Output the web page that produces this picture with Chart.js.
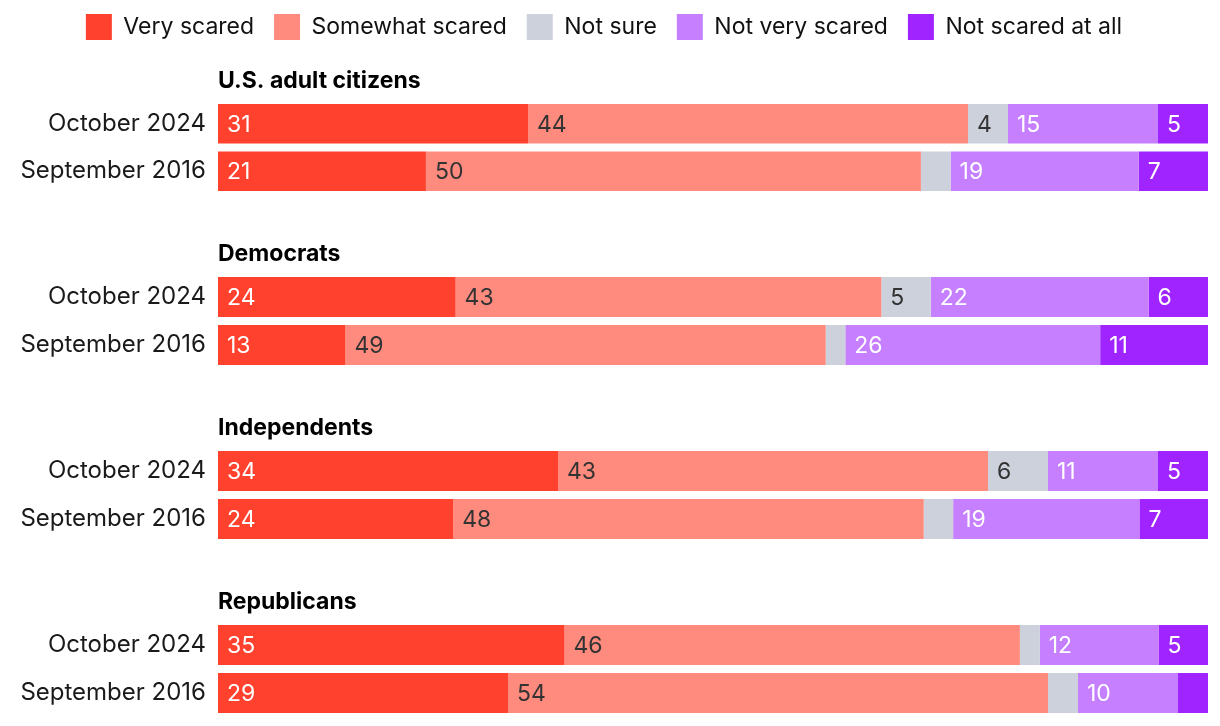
<!DOCTYPE html>
<html lang="en">
<head>
  <meta charset="UTF-8">
  <title>Scared</title>
  <script src="https://cdn.jsdelivr.net/npm/chart.js"></script>
  <style>
    body {
      margin: 0;
      background: #fff;
      font-family: Inter, sans-serif;
    }
    .box {
      position: absolute;
      left: 0;
      width: 1220px;
    }
  </style>
</head>
<body>
  <div class="box" style="top:-6px;height:206px"><canvas id="c0"></canvas></div>
  <div class="box" style="top:200px;height:174px"><canvas id="c1"></canvas></div>
  <div class="box" style="top:374px;height:174px"><canvas id="c2"></canvas></div>
  <div class="box" style="top:548px;height:174px"><canvas id="c3"></canvas></div>

  <script>
    // groupes et lignes
    const groups = ['U.S. adult citizens', 'Democrats', 'Independents', 'Republicans'];
    const periods = ['October 2024', 'September 2016'];

    // une valeur par ligne : US oct, US sep, Dem oct, Dem sep, Ind oct, Ind sep, Rep oct, Rep sep
    const veryScared     = [31, 21, 24, 13, 34, 24, 35, 29];
    const somewhatScared = [44, 50, 43, 49, 43, 48, 46, 54];
    const notSure        = [4, 3, 5, 2, 6, 3, 2, 3];
    const notVeryScared  = [15, 19, 22, 26, 11, 19, 12, 10];
    const notScaredAtAll = [5, 7, 6, 11, 5, 7, 5, 3];

    const series = [
      { label: 'Very scared',        values: veryScared,     color: '#ff412d', text: '#ffffff' },
      { label: 'Somewhat scared',    values: somewhatScared, color: '#ff8b7e', text: '#333333' },
      { label: 'Not sure',           values: notSure,        color: '#cdd1dc', text: '#333333' },
      { label: 'Not very scared',    values: notVeryScared,  color: '#c57fff', text: '#ffffff' },
      { label: 'Not scared at all',  values: notScaredAtAll, color: '#a024ff', text: '#ffffff' }
    ];

    // total de chaque ligne (les barres remplissent toute la largeur)
    const rowTotals = veryScared.map((_, i) => series.reduce((s, d) => s + d.values[i], 0));

    // etiquettes dans les barres
    const valueLabels = {
      id: 'valueLabels',
      afterDatasetsDraw(chart) {
        const ctx = chart.ctx;
        ctx.save();
        ctx.font = '23px Inter';
        ctx.textBaseline = 'middle';
        ctx.textAlign = 'left';
        chart.data.datasets.forEach((ds, di) => {
          chart.getDatasetMeta(di).data.forEach((bar, i) => {
            const w = bar.x - bar.base;
            if (w < 38) return;
            ctx.fillStyle = ds.textColor;
            ctx.fillText(String(ds.raw[i]), bar.base + 9, bar.y + 1);
          });
        });
        ctx.restore();
      }
    };

    // titre du groupe au-dessus des barres
    const groupTitle = {
      id: 'groupTitle',
      afterDraw(chart, args, opts) {
        const ctx = chart.ctx;
        ctx.save();
        ctx.font = 'bold 23px Inter';
        ctx.fillStyle = '#000';
        ctx.textBaseline = 'middle';
        ctx.fillText(opts.text, chart.chartArea.left, chart.chartArea.top - 19);
        ctx.restore();
      }
    };

    // espace sous la legende
    const legendGap = {
      id: 'legendGap',
      beforeInit(chart) {
        if (!chart.legend) return;
        const fit = chart.legend.fit;
        chart.legend.fit = function () {
          fit.bind(chart.legend)();
          if (chart.options.plugins.legend.display) {
            this.height += chart.options.plugins.legendGap.extra;
          }
        };
      }
    };

    function buildChart(k) {
      const rows = [2 * k, 2 * k + 1];
      const datasets = series.map(s => ({
        label: s.label,
        data: rows.map(i => s.values[i] / rowTotals[i] * 100),
        raw: rows.map(i => s.values[i]),
        backgroundColor: s.color,
        textColor: s.text,
        borderWidth: 0,
        barPercentage: 40 / 48,
        categoryPercentage: 1
      }));

      new Chart(document.getElementById('c' + k), {
        type: 'bar',
        data: { labels: periods, datasets: datasets },
        options: {
          indexAxis: 'y',
          responsive: true,
          maintainAspectRatio: false,
          animation: false,
          layout: {
            padding: { top: k === 0 ? 0 : 73, bottom: 5, left: 0, right: 12 }
          },
          scales: {
            x: { stacked: true, min: 0, max: 100, display: false },
            y: {
              stacked: true,
              grid: { display: false, drawTicks: false },
              border: { display: false },
              ticks: { autoSkip: false, font: { family: 'Inter', size: 24 }, color: '#1a1a1a', padding: 12 },
              afterFit(scale) {
                scale.width = 218;
                scale.paddingTop = 0;
                scale.paddingBottom = 0;
              }
            }
          },
          plugins: {
            legend: {
              display: k === 0,
              position: 'top',
              labels: {
                boxWidth: 26,
                boxHeight: 26,
                padding: 20,
                color: '#111',
                font: { family: 'Inter', size: 23 }
              }
            },
            tooltip: { enabled: false },
            groupTitle: { text: groups[k] },
            legendGap: { extra: 50 }
          }
        },
        plugins: [valueLabels, groupTitle, legendGap]
      });
    }

    groups.forEach((g, k) => buildChart(k));
  </script>
</body>
</html>
